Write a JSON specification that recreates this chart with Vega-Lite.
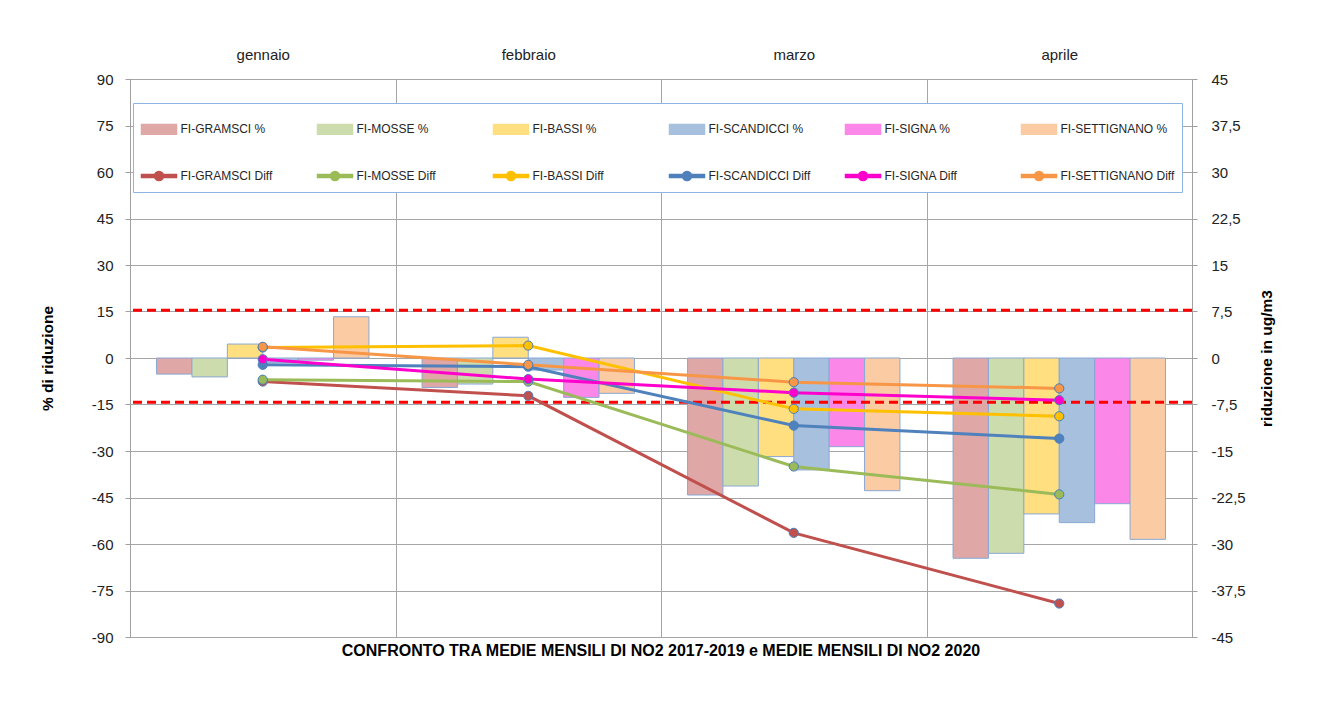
{
  "$schema": "https://vega.github.io/schema/vega-lite/v6.json",
  "width": 1062,
  "height": 558,
  "autosize": {"type": "none"},
  "padding": {"left": 130, "top": 79, "right": 141, "bottom": 76},
  "background": "white",
  "config": {"font": "Liberation Sans", "view": {"stroke": "#a6a6a6"}},
  "title": {
    "text": "CONFRONTO  TRA MEDIE MENSILI DI NO2 2017-2019 e MEDIE MENSILI DI NO2 2020",
    "orient": "bottom", "anchor": "middle", "frame": "group",
    "fontSize": 16, "fontWeight": "bold", "offset": -2, "color": "#000000", "font": "Liberation Sans"
  },
  "datasets": {
    "bars": [
      {"month": "gennaio", "station": "GRAMSCI", "serie": "FI-GRAMSCI %", "pct": -5.2},
      {"month": "gennaio", "station": "MOSSE", "serie": "FI-MOSSE %", "pct": -6.1},
      {"month": "gennaio", "station": "BASSI", "serie": "FI-BASSI %", "pct": 4.5},
      {"month": "gennaio", "station": "SCANDICCI", "serie": "FI-SCANDICCI %", "pct": -1.5},
      {"month": "gennaio", "station": "SIGNA", "serie": "FI-SIGNA %", "pct": -0.7},
      {"month": "gennaio", "station": "SETTIGNANO", "serie": "FI-SETTIGNANO %", "pct": 13.3},
      {"month": "febbraio", "station": "GRAMSCI", "serie": "FI-GRAMSCI %", "pct": -9.5},
      {"month": "febbraio", "station": "MOSSE", "serie": "FI-MOSSE %", "pct": -8.4},
      {"month": "febbraio", "station": "BASSI", "serie": "FI-BASSI %", "pct": 6.7},
      {"month": "febbraio", "station": "SCANDICCI", "serie": "FI-SCANDICCI %", "pct": -3.9},
      {"month": "febbraio", "station": "SIGNA", "serie": "FI-SIGNA %", "pct": -12.7},
      {"month": "febbraio", "station": "SETTIGNANO", "serie": "FI-SETTIGNANO %", "pct": -11.4},
      {"month": "marzo", "station": "GRAMSCI", "serie": "FI-GRAMSCI %", "pct": -44.2},
      {"month": "marzo", "station": "MOSSE", "serie": "FI-MOSSE %", "pct": -41.3},
      {"month": "marzo", "station": "BASSI", "serie": "FI-BASSI %", "pct": -31.8},
      {"month": "marzo", "station": "SCANDICCI", "serie": "FI-SCANDICCI %", "pct": -36.1},
      {"month": "marzo", "station": "SIGNA", "serie": "FI-SIGNA %", "pct": -28.6},
      {"month": "marzo", "station": "SETTIGNANO", "serie": "FI-SETTIGNANO %", "pct": -42.8},
      {"month": "aprile", "station": "GRAMSCI", "serie": "FI-GRAMSCI %", "pct": -64.6},
      {"month": "aprile", "station": "MOSSE", "serie": "FI-MOSSE %", "pct": -63.0},
      {"month": "aprile", "station": "BASSI", "serie": "FI-BASSI %", "pct": -50.3},
      {"month": "aprile", "station": "SCANDICCI", "serie": "FI-SCANDICCI %", "pct": -53.1},
      {"month": "aprile", "station": "SIGNA", "serie": "FI-SIGNA %", "pct": -47.0},
      {"month": "aprile", "station": "SETTIGNANO", "serie": "FI-SETTIGNANO %", "pct": -58.5}
    ],
    "lines": [
      {"month": "gennaio", "serie": "FI-GRAMSCI Diff", "diff": -3.8},
      {"month": "febbraio", "serie": "FI-GRAMSCI Diff", "diff": -6.1},
      {"month": "marzo", "serie": "FI-GRAMSCI Diff", "diff": -28.2},
      {"month": "aprile", "serie": "FI-GRAMSCI Diff", "diff": -39.6},
      {"month": "gennaio", "serie": "FI-MOSSE Diff", "diff": -3.5},
      {"month": "febbraio", "serie": "FI-MOSSE Diff", "diff": -3.8},
      {"month": "marzo", "serie": "FI-MOSSE Diff", "diff": -17.5},
      {"month": "aprile", "serie": "FI-MOSSE Diff", "diff": -22.0},
      {"month": "gennaio", "serie": "FI-BASSI Diff", "diff": 1.7},
      {"month": "febbraio", "serie": "FI-BASSI Diff", "diff": 2.0},
      {"month": "marzo", "serie": "FI-BASSI Diff", "diff": -8.2},
      {"month": "aprile", "serie": "FI-BASSI Diff", "diff": -9.4},
      {"month": "gennaio", "serie": "FI-SCANDICCI Diff", "diff": -1.1},
      {"month": "febbraio", "serie": "FI-SCANDICCI Diff", "diff": -1.4},
      {"month": "marzo", "serie": "FI-SCANDICCI Diff", "diff": -10.9},
      {"month": "aprile", "serie": "FI-SCANDICCI Diff", "diff": -13.0},
      {"month": "gennaio", "serie": "FI-SIGNA Diff", "diff": -0.2},
      {"month": "febbraio", "serie": "FI-SIGNA Diff", "diff": -3.4},
      {"month": "marzo", "serie": "FI-SIGNA Diff", "diff": -5.6},
      {"month": "aprile", "serie": "FI-SIGNA Diff", "diff": -6.8},
      {"month": "gennaio", "serie": "FI-SETTIGNANO Diff", "diff": 1.8},
      {"month": "febbraio", "serie": "FI-SETTIGNANO Diff", "diff": -1.1},
      {"month": "marzo", "serie": "FI-SETTIGNANO Diff", "diff": -3.9},
      {"month": "aprile", "serie": "FI-SETTIGNANO Diff", "diff": -4.9}
    ],
    "keys": [
      {"serie": "FI-GRAMSCI %"}, {"serie": "FI-MOSSE %"}, {"serie": "FI-BASSI %"},
      {"serie": "FI-SCANDICCI %"}, {"serie": "FI-SIGNA %"}, {"serie": "FI-SETTIGNANO %"},
      {"serie": "FI-GRAMSCI Diff"}, {"serie": "FI-MOSSE Diff"}, {"serie": "FI-BASSI Diff"},
      {"serie": "FI-SCANDICCI Diff"}, {"serie": "FI-SIGNA Diff"}, {"serie": "FI-SETTIGNANO Diff"}
    ],
    "refs": [{"pct": 15.4}, {"pct": -14.3}]
  },
  "layer": [
    {
      "encoding": {
        "y": {
          "field": "pct", "type": "quantitative",
          "scale": {"domain": [-90, 90], "nice": false, "zero": false},
          "axis": {
            "orient": "left", "values": [-90, -75, -60, -45, -30, -15, 0, 15, 30, 45, 60, 75, 90],
            "labelExpr": "'' + datum.value",
            "title": "% di riduzione", "titleFontSize": 15.5, "titleFontWeight": "bold", "titleColor": "#000000",
            "titleFont": "Liberation Sans", "titlePadding": 36,
            "labelFontSize": 15, "labelColor": "#222222", "labelFont": "Liberation Sans", "labelPadding": 12,
            "tickColor": "#a0a0a0", "tickSize": 5, "domainColor": "#a0a0a0",
            "grid": true, "gridColor": "#a6a6a6"
          }
        }
      },
      "layer": [
        {
          "data": {"name": "bars"},
          "mark": {"type": "bar", "stroke": "#8aa8d4", "strokeWidth": 1},
          "encoding": {
            "x": {
              "field": "month", "type": "nominal", "sort": null,
              "scale": {"domain": ["gennaio", "febbraio", "marzo", "aprile"], "paddingInner": 0, "paddingOuter": 0},
              "axis": {
                "orient": "top", "title": null, "labelAngle": 0, "labelFontSize": 15, "labelColor": "#222222",
                "labelFont": "Liberation Sans", "ticks": false, "domain": false, "grid": true, "gridColor": "#a6a6a6",
                "tickBand": "extent", "labelPadding": 17
              }
            },
            "xOffset": {
              "field": "station", "type": "nominal",
              "scale": {"domain": ["GRAMSCI", "MOSSE", "BASSI", "SCANDICCI", "SIGNA", "SETTIGNANO"], "paddingInner": 0, "paddingOuter": 0.75}
            },
            "y2": {"datum": 0},
            "color": {
              "field": "serie", "type": "nominal",
              "scale": {
                "domain": ["FI-GRAMSCI %", "FI-MOSSE %", "FI-BASSI %", "FI-SCANDICCI %", "FI-SIGNA %", "FI-SETTIGNANO %",
                           "FI-GRAMSCI Diff", "FI-MOSSE Diff", "FI-BASSI Diff", "FI-SCANDICCI Diff", "FI-SIGNA Diff", "FI-SETTIGNANO Diff"],
                "range": ["#dfa7a6", "#cddcac", "#ffdf80", "#a7c0de", "#fb88e8", "#fbcba3",
                          "#c0504d", "#9bbb59", "#ffc000", "#4f81bd", "#ff00cc", "#f79646"]
              },
              "legend": {
                "orient": "none", "legendX": 3, "legendY": 24, "columns": 6, "direction": "horizontal",
                "title": null, "gridAlign": "all", "columnPadding": 20, "rowPadding": 20, "padding": 7.5,
                "strokeColor": "#8eb4e3", "fillColor": "white",
                "labelFont": "Liberation Sans", "labelFontSize": 12, "labelColor": "#262626", "labelOffset": 3, "labelLimit": 300,
                "symbolSize": 1225, "symbolOpacity": 1
              }
            }
          }
        },
        {
          "data": {"name": "refs"},
          "mark": {"type": "rule", "color": "#ff0000", "strokeWidth": 3, "strokeDash": [9, 5]},
          "encoding": {}
        }
      ]
    },
    {
      "data": {"name": "lines"},
      "encoding": {
        "x": {
          "field": "month", "type": "nominal", "sort": null,
          "scale": {"domain": ["gennaio", "febbraio", "marzo", "aprile"], "paddingInner": 0, "paddingOuter": 0},
          "axis": {
            "orient": "top", "title": null, "labelAngle": 0, "labelFontSize": 15, "labelColor": "#222222",
            "labelFont": "Liberation Sans", "ticks": false, "domain": false, "grid": true, "gridColor": "#a6a6a6",
            "tickBand": "extent", "labelPadding": 17
          }
        },
        "y": {
          "field": "diff", "type": "quantitative",
          "scale": {"domain": [-45, 45], "nice": false, "zero": false},
          "axis": {
            "orient": "right", "values": [-45, -37.5, -30, -22.5, -15, -7.5, 0, 7.5, 15, 22.5, 30, 37.5, 45],
            "labelExpr": "replace('' + datum.value, '.', ',')",
            "title": "riduzione in ug/m3", "titleFontSize": 15.5, "titleFontWeight": "bold", "titleColor": "#000000",
            "titleFont": "Liberation Sans", "titleAngle": 270, "titlePadding": 29,
            "labelFontSize": 15, "labelColor": "#222222", "labelFont": "Liberation Sans", "labelPadding": 14,
            "tickColor": "#a0a0a0", "tickSize": 5, "domainColor": "#a0a0a0", "grid": false
          }
        },
        "color": {"field": "serie", "type": "nominal"}
      },
      "layer": [
        {"mark": {"type": "line", "strokeWidth": 3}},
        {"mark": {"type": "point", "filled": true, "size": 85, "stroke": "#4a7ebb", "strokeWidth": 1, "opacity": 1}}
      ]
    },
    {
      "data": {"name": "keys"},
      "mark": {"type": "point", "filled": true, "opacity": 0},
      "encoding": {
        "color": {"field": "serie", "type": "nominal"},
        "shape": {
          "field": "serie", "type": "nominal",
          "scale": {
            "domain": ["FI-GRAMSCI %", "FI-MOSSE %", "FI-BASSI %", "FI-SCANDICCI %", "FI-SIGNA %", "FI-SETTIGNANO %",
                       "FI-GRAMSCI Diff", "FI-MOSSE Diff", "FI-BASSI Diff", "FI-SCANDICCI Diff", "FI-SIGNA Diff", "FI-SETTIGNANO Diff"],
            "range": ["M-1,-0.28H1V0.28H-1Z", "M-1,-0.28H1V0.28H-1Z", "M-1,-0.28H1V0.28H-1Z", "M-1,-0.28H1V0.28H-1Z", "M-1,-0.28H1V0.28H-1Z", "M-1,-0.28H1V0.28H-1Z",
                      "M-1,-0.08H1V0.08H-1ZM0.26,0A0.26,0.26 0 1 1 -0.26,0A0.26,0.26 0 1 1 0.26,0Z",
                      "M-1,-0.08H1V0.08H-1ZM0.26,0A0.26,0.26 0 1 1 -0.26,0A0.26,0.26 0 1 1 0.26,0Z",
                      "M-1,-0.08H1V0.08H-1ZM0.26,0A0.26,0.26 0 1 1 -0.26,0A0.26,0.26 0 1 1 0.26,0Z",
                      "M-1,-0.08H1V0.08H-1ZM0.26,0A0.26,0.26 0 1 1 -0.26,0A0.26,0.26 0 1 1 0.26,0Z",
                      "M-1,-0.08H1V0.08H-1ZM0.26,0A0.26,0.26 0 1 1 -0.26,0A0.26,0.26 0 1 1 0.26,0Z",
                      "M-1,-0.08H1V0.08H-1ZM0.26,0A0.26,0.26 0 1 1 -0.26,0A0.26,0.26 0 1 1 0.26,0Z"]
          },
          "legend": {
            "orient": "none", "legendX": 3, "legendY": 24, "columns": 6, "direction": "horizontal",
            "title": null, "gridAlign": "all", "columnPadding": 20, "rowPadding": 20, "padding": 7.5,
            "strokeColor": "#8eb4e3", "fillColor": "white",
            "labelFont": "Liberation Sans", "labelFontSize": 12, "labelColor": "#262626", "labelOffset": 3, "labelLimit": 300,
            "symbolSize": 1225, "symbolOpacity": 1
          }
        }
      }
    }
  ],
  "resolve": {"scale": {"y": "independent"}}
}
